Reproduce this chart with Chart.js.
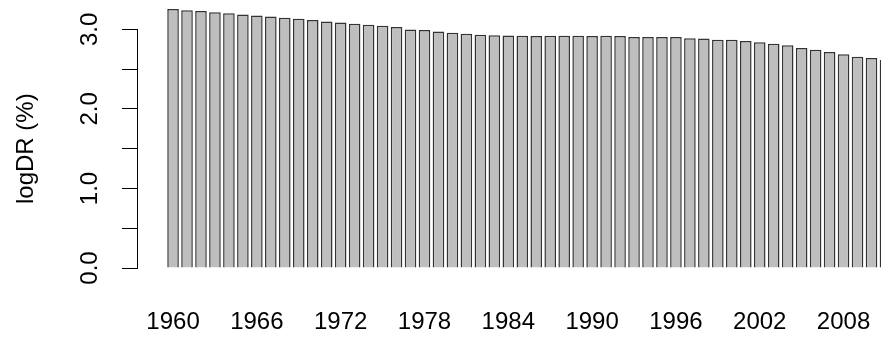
<!DOCTYPE html>
<html>
<head>
<meta charset="utf-8">
<script src="https://cdn.jsdelivr.net/npm/chart.js@4"></script>
<style>
  html, body { margin: 0; padding: 0; background: #fff; }
  #wrap { width: 881px; height: 338px; overflow: hidden; }
</style>
</head>
<body>
<div id="wrap"><canvas id="chartDR" width="881" height="338"></canvas></div>
<script>
const years = [1960, 1961, 1962, 1963, 1964, 1965, 1966, 1967, 1968, 1969,
               1970, 1971, 1972, 1973, 1974, 1975, 1976, 1977, 1978, 1979,
               1980, 1981, 1982, 1983, 1984, 1985, 1986, 1987, 1988, 1989,
               1990, 1991, 1992, 1993, 1994, 1995, 1996, 1997, 1998, 1999,
               2000, 2001, 2002, 2003, 2004, 2005, 2006, 2007, 2008, 2009,
               2010, 2011];
const logDR = [3.255, 3.242, 3.230, 3.217, 3.204, 3.188, 3.176, 3.163, 3.145, 3.133,
               3.117, 3.100, 3.088, 3.070, 3.058, 3.045, 3.029, 3.000, 2.991, 2.975,
               2.957, 2.945, 2.932, 2.928, 2.922, 2.920, 2.918, 2.920, 2.920, 2.920,
               2.918, 2.920, 2.918, 2.905, 2.905, 2.905, 2.905, 2.890, 2.887, 2.870,
               2.870, 2.853, 2.840, 2.820, 2.800, 2.765, 2.745, 2.715, 2.686, 2.656,
               2.640, 2.615];
const yearTicks = [1960, 1966, 1972, 1978, 1984, 1990, 1996, 2002, 2008];
const yTicks = [0, 0.5, 1, 1.5, 2, 2.5, 3];
const yLabelled = [0, 1, 2, 3];

const fontFam = '"Liberation Sans", Arial, sans-serif';

new Chart(document.getElementById('chartDR'), {
  type: 'bar',
  data: {
    datasets: [{
      label: 'logDR (%)',
      data: years.map((y, i) => ({ x: y, y: logDR[i] })),
      backgroundColor: '#bebebe',
      borderColor: '#333',
      borderWidth: 1.5,
      barPercentage: 0.83,
      categoryPercentage: 1,
      clip: false
    }]
  },
  options: {
    responsive: false,
    animation: false,
    devicePixelRatio: 1,
    layout: { padding: { top: 29, right: 0, bottom: 0, left: 0 } },
    plugins: { legend: { display: false }, tooltip: { enabled: false } },
    scales: {
      x: {
        type: 'linear',
        offset: false,
        min: 1957.42,
        max: 2010.68,
        grid: { display: false, offset: false },
        border: { display: false },
        afterBuildTicks: s => { s.ticks = yearTicks.map(v => ({ value: v })); },
        afterFit: s => { s.height = 70; s.paddingLeft = 0; s.paddingRight = 0; },
        ticks: {
          padding: 32,
          maxRotation: 0,
          autoSkip: false,
          color: '#000',
          font: { family: fontFam, size: 24 },
          callback: v => String(v)
        }
      },
      y: {
        min: 0,
        max: 3,
        afterBuildTicks: s => { s.ticks = yTicks.map(v => ({ value: v })); },
        afterFit: s => { s.width = 137; },
        grid: { display: true, drawOnChartArea: false, drawTicks: true, tickLength: 15, color: '#000', lineWidth: 1 },
        border: { display: true, color: '#000', width: 1 },
        ticks: {
          minRotation: 90,
          maxRotation: 90,
          crossAlign: 'center',
          padding: 15,
          color: '#000',
          font: { family: fontFam, size: 24 },
          callback: v => yLabelled.includes(v) ? v.toFixed(1) : ''
        },
        title: {
          display: true,
          text: 'logDR (%)',
          color: '#000',
          font: { family: fontFam, size: 24 },
          padding: { top: 12, bottom: 0 }
        }
      }
    }
  }
});
</script>
</body>
</html>
